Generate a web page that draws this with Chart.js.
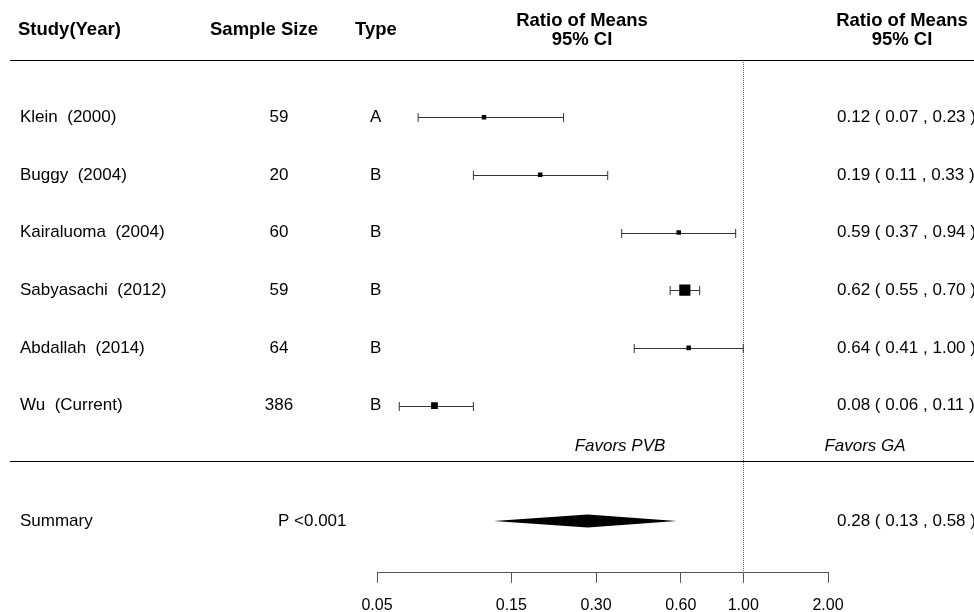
<!DOCTYPE html>
<html>
<head>
<meta charset="utf-8">
<title>Forest plot</title>
<script src="https://cdn.jsdelivr.net/npm/chart.js@4.4.1/dist/chart.umd.min.js"></script>
<style>
    html, body { margin: 0; padding: 0; background: #fff; }
    #wrap { width: 974px; height: 612px; position: relative; }
</style>
</head>
<body>
<div id="wrap"><canvas id="forestChart"></canvas></div>
<script>
// data
var studies = ['Klein  (2000)', 'Buggy  (2004)', 'Kairaluoma  (2004)', 'Sabyasachi  (2012)', 'Abdallah  (2014)', 'Wu  (Current)'];
var sampleSizes = ['59', '20', '60', '59', '64', '386'];
var studyTypes = ['A', 'B', 'B', 'B', 'B', 'B'];
var ratios = [0.12, 0.19, 0.59, 0.62, 0.64, 0.08];
var lowerCI = [0.07, 0.11, 0.37, 0.55, 0.41, 0.06];
var upperCI = [0.23, 0.33, 0.94, 0.70, 1.00, 0.11];
var weights = [1, 1, 1, 7, 1, 3];

var summaryRatio = 0.28;
var summaryLower = 0.13;
var summaryUpper = 0.58;
var summaryP = 'P <0.001';

var axisTicks = [0.05, 0.15, 0.30, 0.60, 1.00, 2.00];

var FONT = '"Liberation Sans", Arial, Helvetica, sans-serif';

function fmt(v) { return v.toFixed(2); }

var rows = [];
for (var i = 0; i < studies.length; i++) {
    rows.push({ x: ratios[i], y: i + 1 });
}
var summaryRow = studies.length + 2;

// point size grows with weight
var radii = weights.map(function(w) {
    return 3.2 + (w - 1) * 0.78;
});

var forestPlugin = {
    id: 'forestParts',
    beforeDatasetsDraw: function(chart) {
        var ctx = chart.ctx;
        var xs = chart.scales.x;
        var ys = chart.scales.y;
        var area = chart.chartArea;

        // no-effect line
        var x1 = Math.round(xs.getPixelForValue(1)) + 0.5;
        ctx.save();
        ctx.strokeStyle = '#666';
        ctx.lineWidth = 1;
        ctx.setLineDash([1, 1]);
        ctx.beginPath();
        ctx.moveTo(x1, 62);
        ctx.lineTo(x1, area.bottom);
        ctx.stroke();
        ctx.restore();

        // confidence intervals
        ctx.save();
        ctx.strokeStyle = '#333';
        ctx.lineWidth = 1;
        for (var i = 0; i < studies.length; i++) {
            var y = Math.round(ys.getPixelForValue(i + 1)) + 0.5;
            var a = xs.getPixelForValue(lowerCI[i]);
            var b = xs.getPixelForValue(upperCI[i]);
            ctx.beginPath();
            ctx.moveTo(a, y);
            ctx.lineTo(b, y);
            ctx.moveTo(a, y - 4.5);
            ctx.lineTo(a, y + 4.5);
            ctx.moveTo(b, y - 4.5);
            ctx.lineTo(b, y + 4.5);
            ctx.stroke();
        }
        ctx.restore();

        // summary diamond
        var sy = ys.getPixelForValue(summaryRow);
        ctx.save();
        ctx.fillStyle = '#000';
        ctx.beginPath();
        ctx.moveTo(xs.getPixelForValue(summaryLower), sy);
        ctx.lineTo(xs.getPixelForValue(summaryRatio), sy - 6.5);
        ctx.lineTo(xs.getPixelForValue(summaryUpper), sy);
        ctx.lineTo(xs.getPixelForValue(summaryRatio), sy + 6.5);
        ctx.closePath();
        ctx.fill();
        ctx.restore();
    },
    afterDraw: function(chart) {
        var ctx = chart.ctx;
        var ys = chart.scales.y;
        ctx.save();
        ctx.fillStyle = '#000';
        ctx.textBaseline = 'middle';

        // header
        ctx.font = 'bold 18.5px ' + FONT;
        ctx.textAlign = 'left';
        ctx.fillText('Study(Year)', 18, 30);
        ctx.fillText('Type', 355, 30);
        ctx.textAlign = 'center';
        ctx.fillText('Sample Size', 264, 30);
        ctx.fillText('Ratio of Means', 582, 21);
        ctx.fillText('95% CI', 582, 40);
        ctx.fillText('Ratio of Means', 902, 21);
        ctx.fillText('95% CI', 902, 40);

        // rules
        ctx.strokeStyle = '#000';
        ctx.lineWidth = 1;
        ctx.beginPath();
        ctx.moveTo(10, 60.5);
        ctx.lineTo(974, 60.5);
        ctx.moveTo(10, 461.5);
        ctx.lineTo(974, 461.5);
        ctx.stroke();

        // study rows
        ctx.font = '17px ' + FONT;
        for (var i = 0; i < studies.length; i++) {
            var y = ys.getPixelForValue(i + 1);
            ctx.textAlign = 'left';
            ctx.fillText(studies[i], 20, y);
            ctx.fillText(studyTypes[i], 370, y);
            ctx.fillText(fmt(ratios[i]) + ' ( ' + fmt(lowerCI[i]) + ' , ' + fmt(upperCI[i]) + ' )', 837, y);
            ctx.textAlign = 'center';
            ctx.fillText(sampleSizes[i], 279, y);
        }

        // favours labels
        ctx.font = 'italic 17px ' + FONT;
        ctx.textAlign = 'center';
        ctx.fillText('Favors PVB', 620, 446);
        ctx.fillText('Favors GA', 865, 446);

        // summary row
        var sy = ys.getPixelForValue(summaryRow);
        ctx.font = '17px ' + FONT;
        ctx.textAlign = 'left';
        ctx.fillText('Summary', 20, sy);
        ctx.fillText(summaryP, 278, sy);
        ctx.fillText(fmt(summaryRatio) + ' ( ' + fmt(summaryLower) + ' , ' + fmt(summaryUpper) + ' )', 837, sy);
        ctx.restore();
    }
};

new Chart(document.getElementById('forestChart'), {
    type: 'scatter',
    data: {
        datasets: [{
            data: rows,
            pointStyle: 'rect',
            pointRadius: radii,
            pointHoverRadius: radii,
            backgroundColor: '#000',
            borderWidth: 0
        }]
    },
    options: {
        responsive: true,
        maintainAspectRatio: false,
        animation: false,
        events: [],
        layout: { padding: { left: 377, right: 146, top: 59.5, bottom: -16 } },
        plugins: { legend: { display: false }, tooltip: { enabled: false } },
        scales: {
            x: {
                type: 'logarithmic',
                min: 0.05,
                max: 2,
                afterBuildTicks: function(scale) {
                    scale.ticks = axisTicks.map(function(v) { return { value: v }; });
                },
                ticks: {
                    autoSkip: false,
                    maxRotation: 0,
                    padding: 13,
                    color: '#000',
                    font: { family: FONT, size: 16 },
                    callback: function(v) { return fmt(v); }
                },
                grid: { drawOnChartArea: false, drawTicks: true, tickLength: 10, color: '#555' },
                border: { display: true, color: '#555' }
            },
            y: {
                display: false,
                reverse: true,
                min: 0,
                max: 8.9
            }
        }
    },
    plugins: [forestPlugin]
});
</script>
</body>
</html>
